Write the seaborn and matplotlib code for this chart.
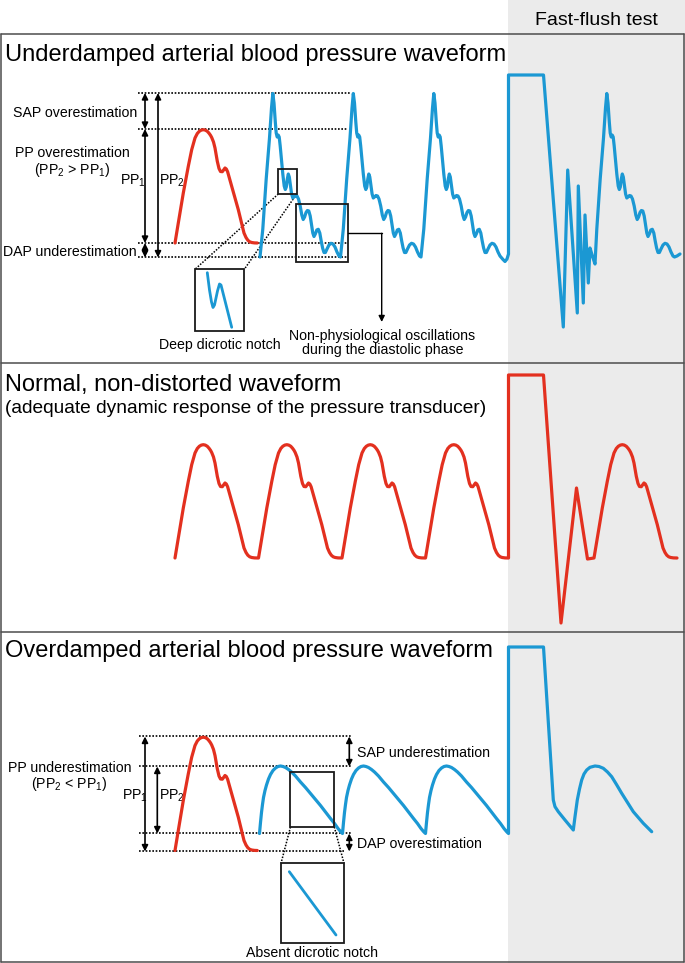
import matplotlib
matplotlib.use("Agg")
import matplotlib.pyplot as plt
import seaborn as sns
import numpy as np
import pandas as pd
from matplotlib.patches import Rectangle

sns.set_theme(style="white")
plt.rcParams["font.family"] = ["Liberation Sans", "DejaVu Sans"]
plt.rcParams["mathtext.fontset"] = "custom"
plt.rcParams["mathtext.rm"] = "Liberation Sans"
plt.rcParams["mathtext.it"] = "Liberation Sans:italic"
plt.rcParams["mathtext.bf"] = "Liberation Sans:bold"
plt.rcParams["lines.solid_joinstyle"] = "round"
plt.rcParams["text.color"] = "black"

# ------------------------------------------------------------------
# DATA  (units = figure pixels, y downward)
# ------------------------------------------------------------------
# normal (red) beat: time offset from onset, height above diastolic level
normal_dx = [0, 3.3, 8.3, 13.3, 16.7, 20, 22.3, 24.3, 26.3, 28.3, 30.3, 32.3, 34, 35.5,
             36.7, 38.5, 40, 42.3, 44, 45.5, 47.3, 48.8, 50, 51.3, 52.6, 56.7, 63.3,
             69, 71, 72.8, 74.7, 76.7, 79.5, 82.3]
normal_h = [0, 20, 50, 76.7, 93.3, 105, 109.5, 111.7, 112.9, 113.3, 112.9, 111.7, 109.8,
            107.7, 105.5, 101, 95, 81.7, 74.5, 71.5, 71.3, 73.3, 75, 74, 71.3, 56.7, 33.3,
            10, 5.5, 2.8, 1.2, 0.5, 0.1, 0]

# underdamped (blue) beat
under_dx = [0, 2.8, 6.2, 9.5, 11.5, 12.8, 14, 15.3, 16.2, 17.2, 18.2, 19.2, 20.2, 21.5,
            22.8, 24.2, 25.3, 26.3, 27.3, 28.3, 29.3, 30.5, 31.6, 32.8, 34, 35.5, 37,
            38.5, 40.2, 41.8, 43.2, 44.6, 46, 47.4, 48.8, 50.2, 51.6, 52.8, 54, 55.3,
            56.8, 58.3, 59.8, 61.2, 62.6, 64, 65.4, 67, 69, 71, 73, 75, 77, 79, 80.5]
under_y = [257, 229, 179, 138, 108, 93.5, 103, 122, 133, 137, 135, 137, 146, 160,
           174, 186, 189.5, 187, 179, 174, 177, 186, 194, 198, 197, 195.5, 196,
           199, 206, 215, 219.5, 217, 212.5, 210.5, 211, 216, 225, 233, 236.5, 234,
           230, 229.3, 233, 241, 248, 252.5, 252.5, 249, 245, 243.3, 244, 247, 252, 256, 257]

# overdamped (blue) beat
over_dx = [0, 1, 2, 3, 4, 5.5, 7, 9, 11, 13.5, 16, 18.5, 21, 23.5, 26, 29, 32, 36, 41,
           46, 51, 56, 61, 66, 71, 75, 78.5, 81, 83]
over_h = [0, 11, 21, 29, 36, 43, 48.5, 54.5, 59, 63, 65.5, 67, 67.5, 67, 66, 64, 61.5,
          57.5, 51.5, 46, 40, 34, 28, 21.5, 15, 10, 5, 2, 0]

# beat onsets and diastolic levels for each panel
p1_red_onset, p1_red_base = 175, 243
p1_blue_onsets = [260, 340.5, 421]
p1_post_onset = 594
p2_onsets, p2_base = [175, 258.5, 342, 425.5], 558
p2_post_onset = 594
p3_red_onset, p3_red_base = 175, 850.5
p3_blue_onsets, p3_blue_base = [259.5, 342.5, 425.5], 833.5

# fast-flush test segments
flush1_x = [503, 505, 507, 508.5, 508.5, 543.5, 563.3, 567.7, 577.3, 578.3, 583.3, 585,
            588.3, 590, 592.7, 595]
flush1_y = [259.5, 261.5, 259, 254, 75, 75, 327, 170, 313, 186, 303, 215, 283, 248, 257, 264]
flush2_x = [508.5, 508.5, 543.5, 561, 576.5, 587.5]
flush2_y = [558, 375, 375, 623, 488, 559]
flush3_x = [508.5, 508.5, 543.5, 553.3, 555, 558.3, 565, 573.3, 575, 577.3, 579.5, 581.7,
            584, 586.7, 590, 595, 599, 603.3, 607.5, 611.7, 616.5, 621.7, 627.5, 633.3,
            643.3, 651.7]
flush3_y = [833.5, 647, 647, 800, 806.7, 811.7, 820, 830, 816.7, 800, 789, 780,
            774, 770, 767.3, 766, 766.5, 768.3, 772, 776.7, 784.5, 793.3, 802.5, 811.7,
            823.3, 831.7]

# insets
notch_inset_x = [207.3, 209.5, 211.5, 213, 214.5, 217.5, 219.5, 221, 231.7]
notch_inset_y = [272.7, 290, 302, 307.5, 305, 291, 284, 285, 327.3]
absent_inset_x = [289.3, 336]
absent_inset_y = [871.7, 935]

# ------------------------------------------------------------------
RED = "#e3301f"
BLUE = "#1b98d3"
GRAYBG = "#ebebeb"
BORDER = "#4d4d4d"

fig = plt.figure(figsize=(6.85, 9.63), dpi=100)
ax = fig.add_axes([0, 0, 1, 1])
ax.set_xlim(0, 685)
ax.set_ylim(963, 0)
ax.axis("off")


def beats_h(onsets, dx, h, base, skip=0):
    xs, ys = [], []
    for o in onsets:
        xs += [o + d for d in dx[skip:]]
        ys += [base - v for v in h[skip:]]
    return xs, ys


def beats_y(onsets, dx, yv, skip=0):
    xs, ys = [], []
    for o in onsets:
        xs += [o + d for d in dx[skip:]]
        ys += list(yv[skip:])
    return xs, ys


def wave(xs, ys, color):
    sns.lineplot(x=np.asarray(xs, float), y=np.asarray(ys, float), sort=False,
                 estimator=None, color=color, lw=2.3, ax=ax, zorder=5)


# background & borders
ax.axvspan(508, 685, color=GRAYBG, zorder=0, lw=0)
for yb in [34, 363, 632, 962]:
    ax.plot([1, 684], [yb, yb], color=BORDER, lw=1.1, zorder=3)
for xb in [1, 684]:
    ax.plot([xb, xb], [34, 962], color=BORDER, lw=1.1, zorder=3)

# ---------------- Panel 1 -----------------
x, y = beats_h([p1_red_onset], normal_dx, normal_h, p1_red_base)
wave(x, y, RED)
x, y = beats_y(p1_blue_onsets, under_dx, under_y)
x = x[:-1] + flush1_x
y = y[:-1] + flush1_y
px, py = beats_y([p1_post_onset], under_dx, under_y, skip=1)
x += px + [677, 680]
y += py + [256, 254]
wave(x, y, BLUE)

# ---------------- Panel 2 -----------------
x, y = beats_h(p2_onsets, normal_dx, normal_h, p2_base)
x += flush2_x
y += flush2_y
px, py = beats_h([p2_post_onset], normal_dx, normal_h, p2_base)
x += px + [677]
y += py + [p2_base]
wave(x, y, RED)

# ---------------- Panel 3 -----------------
x, y = beats_h([p3_red_onset], normal_dx, normal_h, p3_red_base)
wave(x, y, RED)
x, y = beats_h(p3_blue_onsets, over_dx, over_h, p3_blue_base)
x += flush3_x
y += flush3_y
wave(x, y, BLUE)

# insets lines
ax.plot(notch_inset_x, notch_inset_y, color=BLUE, lw=2.0, zorder=5)
ax.plot(absent_inset_x, absent_inset_y, color=BLUE, lw=2.0, zorder=5)

# ---------------- annotations -----------------
DOT = dict(color="black", lw=1.2, linestyle=(0, (1, 1)), zorder=4)
for yy, xe in [(93, 350), (129, 348), (243, 347), (257.5, 347)]:
    ax.plot([138, xe], [yy, yy], **DOT)
for yy, xe in [(736.5, 351.5), (766.5, 351.5), (833.5, 351.5), (851.5, 344)]:
    ax.plot([139, xe], [yy, yy], **DOT)


def darrow(xx, y1, y2):
    ax.annotate("", xy=(xx, y2), xytext=(xx, y1),
                arrowprops=dict(arrowstyle="<|-|>", color="black", lw=1.2,
                                mutation_scale=9, shrinkA=0, shrinkB=0), zorder=6)


darrow(145, 93, 129)
darrow(145, 129, 243)
darrow(145, 243, 257.5)
darrow(158, 93, 257.5)
darrow(145, 736.5, 851.5)
darrow(157.3, 766.5, 833.5)
darrow(349.3, 736.5, 766.5)
darrow(349.3, 833.5, 851.5)

# boxes
BOX = dict(fill=False, ec="#1a1a1a", lw=1.3, zorder=6)
for (bx, by, bw, bh) in [(278.3, 169.3, 18.4, 24.7), (295.7, 204.3, 52.6, 58),
                         (195, 269.3, 49.3, 61.4), (290.5, 772, 43.8, 55),
                         (281, 863.3, 63, 79.4)]:
    ax.add_patch(Rectangle((bx, by), bw, bh, **BOX))

DOT2 = dict(color="black", lw=1.1, linestyle=(0, (1, 1)), zorder=4)
ax.plot([278.3, 195], [194, 269.3], **DOT2)
ax.plot([296.7, 244.3], [194, 269.3], **DOT2)
ax.plot([290.5, 281], [827, 863.3], **DOT2)
ax.plot([334.3, 344.0], [827, 863.3], **DOT2)

# connector arrow
ax.plot([348.3, 381.7], [233.3, 233.3], color="black", lw=1.0, zorder=6)
ax.annotate("", xy=(381.7, 322), xytext=(381.7, 233.3),
            arrowprops=dict(arrowstyle="-|>", color="black", lw=1.0,
                            mutation_scale=9, shrinkA=0, shrinkB=0), zorder=6)

# ---------------- text -----------------
TS = 17
LS = 10.2
ax.text(596, 25, "Fast-flush test", fontsize=14, ha="center", va="baseline")
ax.text(5, 61.5, "Underdamped arterial blood pressure waveform", fontsize=TS, va="baseline")
ax.text(5, 390.5, "Normal, non-distorted waveform", fontsize=TS, va="baseline")
ax.text(5, 413, "(adequate dynamic response of the pressure transducer)", fontsize=13.75,
        va="baseline")
ax.text(5, 657.3, "Overdamped arterial blood pressure waveform", fontsize=TS, va="baseline")

ax.text(137, 117, "SAP overestimation", fontsize=LS, ha="right", va="baseline")
ax.text(72, 156.7, "PP overestimation", fontsize=LS, ha="center", va="baseline")
ax.text(72, 174.3, r"(PP$_2$ > PP$_1$)", fontsize=LS, ha="center", va="baseline")
ax.text(120, 185, r"PP$_1$", fontsize=LS, ha="left", va="baseline")
ax.text(159.3, 185, r"PP$_2$", fontsize=LS, ha="left", va="baseline")
ax.text(137, 256, "DAP underestimation", fontsize=LS, ha="right", va="baseline")
ax.text(220, 349.3, "Deep dicrotic notch", fontsize=LS, ha="center", va="baseline")
ax.text(382.5, 340, "Non-physiological oscillations", fontsize=LS, ha="center", va="baseline")
ax.text(382.5, 354, "during the diastolic phase", fontsize=LS, ha="center", va="baseline")

ax.text(69.5, 771.7, "PP underestimation", fontsize=LS, ha="center", va="baseline")
ax.text(69.7, 788.3, r"(PP$_2$ < PP$_1$)", fontsize=LS, ha="center", va="baseline")
ax.text(121.7, 800, r"PP$_1$", fontsize=LS, ha="left", va="baseline")
ax.text(159.3, 800, r"PP$_2$", fontsize=LS, ha="left", va="baseline")
ax.text(357.3, 757.3, "SAP underestimation", fontsize=LS, ha="left", va="baseline")
ax.text(357.3, 847.7, "DAP overestimation", fontsize=LS, ha="left", va="baseline")
ax.text(312, 957, "Absent dicrotic notch", fontsize=LS, ha="center", va="baseline")

fig.savefig("out.png", dpi=100)
